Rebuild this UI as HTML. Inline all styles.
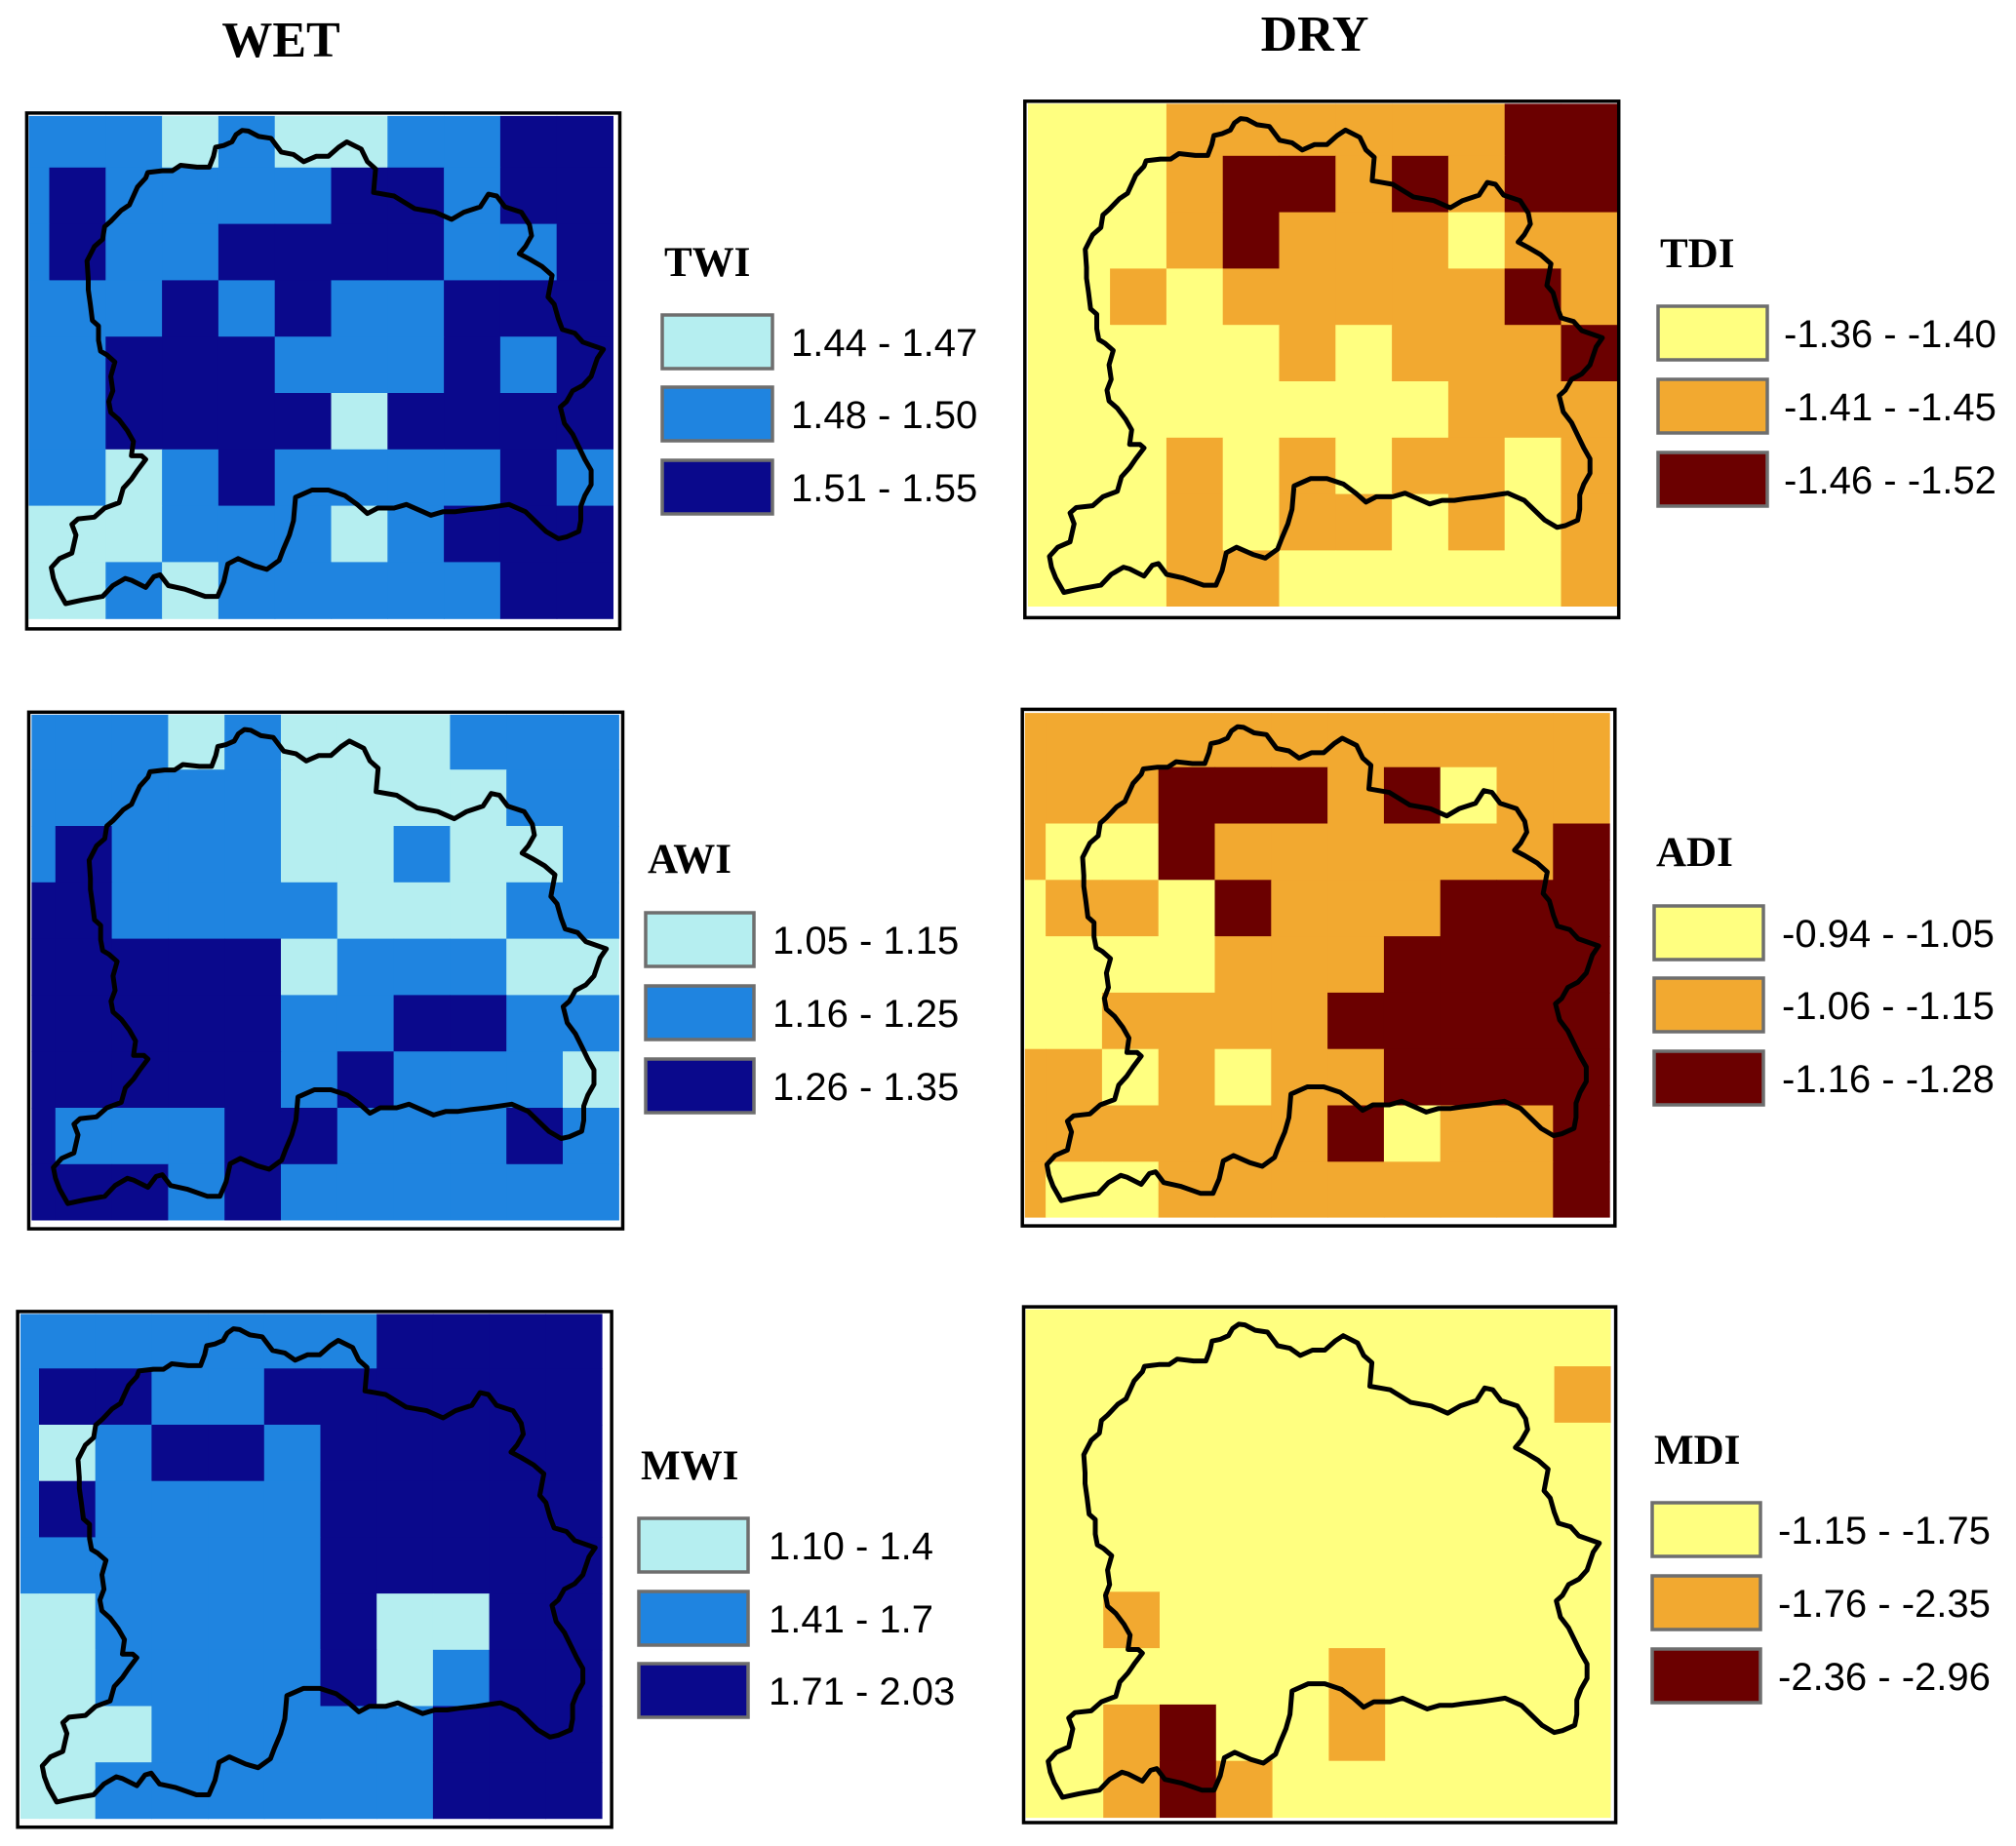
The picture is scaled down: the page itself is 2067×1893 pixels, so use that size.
<!DOCTYPE html>
<html><head><meta charset="utf-8"><style>
html,body{margin:0;padding:0;background:#fff;}
svg{display:block;}
</style></head><body>
<svg id="fig" width="2067" height="1893" viewBox="0 0 2067 1893" xmlns="http://www.w3.org/2000/svg">
<rect width="2067" height="1893" fill="#fff"/>
<text x="288" y="58" font-family="Liberation Serif, serif" font-weight="bold" font-size="52" text-anchor="middle">WET</text>
<text x="1348" y="52" font-family="Liberation Serif, serif" font-weight="bold" font-size="52" text-anchor="middle">DRY</text>
</svg>
<script>
// class grids (0 = lowest class colour, 1 = middle, 2 = highest) rows top->bottom, 11 columns
const twiGrid = [
"11101001122","12111122122","12112222112","11121211222","11222111212",
"11222202222","11012111121","00011101222","00101111122"];
const tdiGrid = [
"00011111122","00012212122","00012111011","00101111121","00000101112",
"00000000111","00010101101","00010110101","00011000001"];
const awiGrid = [
"11101000111","11111000011","12111001001","22111100011","22222011100",
"22222112211","22222121110","21112211121","22212111111"];
const adiGrid = [
"11111111111","11122212011","10021111112","01102111222","00001112222",
"00111122222","11010112222","11111120112","10011111112"];
const mwiGrid = [
"11111112222","12211222222","10122122222","12111122222","11111122222",
"00111120022","00111120122","00011111222","00111111222"];
const mdiGrid = [
"00000000000","00000000001","00000000000","00000000000","00000000000",
"00100000000","00000010000","00120010000","00121000000"];

const blues = ["#b5eef0","#1f84e0","#0a098c"];
const heat = ["#ffff80","#f2a930","#6b0000"];

const twiLabels = ["1.44 - 1.47","1.48 - 1.50","1.51 - 1.55"];
const tdiLabels = ["-1.36 - -1.40","-1.41 - -1.45","-1.46 - -1.52"];
const awiLabels = ["1.05 - 1.15","1.16 - 1.25","1.26 - 1.35"];
const adiLabels = ["-0.94 - -1.05","-1.06 - -1.15","-1.16 - -1.28"];
const mwiLabels = ["1.10 - 1.4","1.41 - 1.7","1.71 - 2.03"];
const mdiLabels = ["-1.15 - -1.75","-1.76 - -2.35","-2.36 - -2.96"];

const outlineZ = [[590,118],[605,120],[630,135],[660,140],[685,178],[715,185],[740,205],[770,190],[800,190],[825,165],[845,150],[880,170],[895,205],[915,225],[910,290],[960,300],[1010,335],[1060,345],[1100,365],[1130,345],[1170,330],[1190,295],[1210,300],[1230,330],[1270,345],[1290,380],[1295,410],[1280,440],[1265,460],[1290,475],[1320,495],[1345,520],[1335,580],[1350,600],[1360,640],[1370,670],[1400,680],[1420,705],[1470,725],[1455,750],[1440,800],[1420,825],[1395,840],[1380,870],[1365,885],[1375,930],[1395,960],[1410,995],[1425,1030],[1440,1060],[1440,1100],[1425,1130],[1415,1160],[1415,1200],[1410,1230],[1380,1245],[1360,1250],[1330,1230],[1280,1175],[1240,1155],[1210,1160],[1180,1165],[1140,1170],[1110,1175],[1080,1175],[1050,1185],[1030,1175],[990,1155],[960,1165],[920,1165],[895,1180],[870,1155],[840,1130],[800,1115],[760,1115],[720,1135],[715,1200],[705,1240],[690,1280],[680,1310],[650,1335],[620,1325],[580,1305],[555,1320],[545,1370],[530,1410],[500,1410],[450,1390],[410,1380],[390,1350],[375,1355],[355,1385],[320,1365],[305,1360],[275,1380],[250,1410],[200,1420],[160,1430],[140,1390],[130,1360],[125,1330],[145,1305],[175,1290],[185,1240],[175,1210],[190,1195],[230,1190],[255,1165],[290,1150],[300,1110],[320,1085],[335,1060],[355,1030],[345,1020],[320,1020],[325,980],[310,950],[290,920],[270,900],[265,870],[275,840],[270,800],[280,760],[260,740],[245,730],[240,700],[240,660],[225,645],[220,600],[215,560],[215,530],[212,480],[230,440],[250,420],[255,385],[270,370],[295,340],[315,325],[325,300],[335,275],[355,250],[360,235],[395,230],[420,230],[440,215],[480,220],[510,220],[520,190],[525,165],[545,160],[565,150],[575,130]];

const NS="http://www.w3.org/2000/svg";
const svg=document.getElementById('fig');
function mk(tag,attrs,parent){const e=document.createElementNS(NS,tag);for(const k in attrs)e.setAttribute(k,attrs[k]);(parent||svg).appendChild(e);return e;}

const refFrame={l:27.4,t:115.9,w:608.1,h:529};
const outlinePts=outlineZ.map(p=>[p[0]/2.376, 90+p[1]/2.703]);

const panels=[
 {name:"twi",title:"TWI",grid:twiGrid,pal:blues,labels:twiLabels,
  f:{l:27.4,t:115.9,r:635.5,b:644.9},g:{x0:29.5,x1:50.5,xr:628.4,y0:118.9,y1:171.8,yb:634.2,c:57.8},
  lg:{x:679,w:113,tx:811,ty:283,y:[323,397,472]}},
 {name:"tdi",title:"TDI",grid:tdiGrid,pal:heat,labels:tdiLabels,
  f:{l:1050.8,t:103.8,r:1659.7,b:633.4},g:{x0:1053.9,x1:1080.3,xr:1657.5,y0:106.4,y1:159.8,yb:621.4,c:57.8},
  lg:{x:1700,w:112,tx:1829,ty:274,y:[314,389,464]}},
 {name:"awi",title:"AWI",grid:awiGrid,pal:blues,labels:awiLabels,
  f:{l:29.5,t:730.3,r:638.5,b:1260.1},g:{x0:32.4,x1:56.8,xr:634.3,y0:732.9,y1:789.2,yb:1250.9,c:57.8},
  lg:{x:662,w:111,tx:792,ty:895,y:[936,1011,1086]}},
 {name:"adi",title:"ADI",grid:adiGrid,pal:heat,labels:adiLabels,
  f:{l:1048.2,t:727.4,r:1655.8,b:1257.1},g:{x0:1050.8,x1:1072.1,xr:1650.1,y0:731.1,y1:786.7,yb:1248,c:57.8},
  lg:{x:1696,w:112,tx:1827,ty:888,y:[929,1003,1078]}},
 {name:"mwi",title:"MWI",grid:mwiGrid,pal:blues,labels:mwiLabels,
  f:{l:18.1,t:1344.9,r:627.1,b:1873.7},g:{x0:21,x1:40,xr:617.4,y0:1347.4,y1:1403.3,yb:1864.6,c:57.7},
  lg:{x:655,w:112,tx:788,ty:1517,y:[1557,1632,1706]}},
 {name:"mdi",title:"MDI",grid:mdiGrid,pal:heat,labels:mdiLabels,
  f:{l:1049.5,t:1340.1,r:1656.6,b:1869},g:{x0:1051.7,x1:1073.4,xr:1651,y0:1342.7,y1:1401.1,yb:1863.9,c:57.8},
  lg:{x:1694,w:111,tx:1823,ty:1501,y:[1541,1616,1691]}}
];

function colX(g,i){return i===0?g.x0:Math.min(g.x1+(i-1)*g.c,g.xr);}
function rowY(g,j){return j===0?g.y0:Math.min(g.y1+(j-1)*g.c,g.yb);}

panels.forEach(p=>{
  const grp=mk('g',{});
  
  
  mk('rect',{x:p.f.l,y:p.f.t,width:p.f.r-p.f.l,height:p.f.b-p.f.t,fill:'#fff'},grp);
  const g=p.g;
  p.grid.forEach((row,j)=>{
    for(let i=0;i<row.length;i++){
      const v=+row[i];
      const x=colX(g,i), x2=colX(g,i+1), y=rowY(g,j), y2=rowY(g,j+1);
      const r=mk('rect',{x:x,y:y,width:Math.max(0,x2-x)+0.6,height:Math.max(0,y2-y)+0.6,fill:p.pal[v]},grp);
      
      
    }
  });
  const sx=(p.f.r-p.f.l)/refFrame.w, sy=(p.f.b-p.f.t)/refFrame.h;
  const pts=outlinePts.map(q=>[(p.f.l+(q[0]-refFrame.l)*sx).toFixed(1),(p.f.t+(q[1]-refFrame.t)*sy).toFixed(1)].join(',')).join(' ');
  const ol=mk('polygon',{points:pts,fill:'none',stroke:'#000','stroke-width':5,'stroke-linejoin':'round'},grp);
  
  
  const fr=mk('rect',{x:p.f.l,y:p.f.t,width:p.f.r-p.f.l,height:p.f.b-p.f.t,fill:'none',stroke:'#000','stroke-width':3.5},grp);
  
  
  const lg=mk('g',{});
  
  
  const tt=mk('text',{x:p.lg.x+2,y:p.lg.ty,'font-family':'Liberation Serif, serif','font-weight':'bold','font-size':43},lg);
  tt.textContent=p.title;
  
  
  p.labels.forEach((lab,k)=>{
    const y=p.lg.y[k];
    const sw=mk('rect',{x:p.lg.x,y:y,width:p.lg.w,height:55,fill:p.pal[k],stroke:'#6e6e6e','stroke-width':3.5},lg);
    
    
    const t=mk('text',{x:p.lg.tx,y:y+42,'font-family':'Liberation Sans, sans-serif','font-size':40},lg);
    t.textContent=lab;
    
    
  });
});
</script>
</body></html>
